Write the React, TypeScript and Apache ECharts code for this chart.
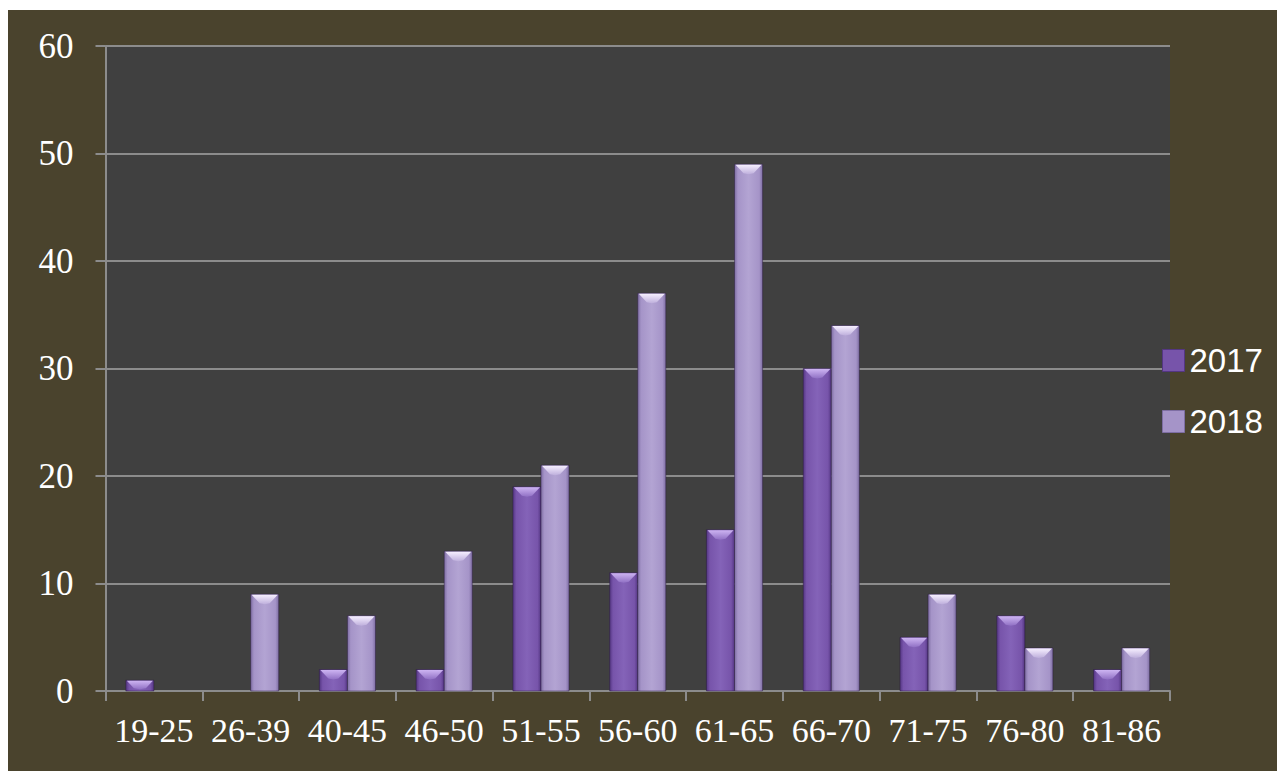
import React, { useEffect, useRef } from "react";
import * as echarts from "echarts";

const categories = ["19-25", "26-39", "40-45", "46-50", "51-55", "56-60", "61-65", "66-70", "71-75", "76-80", "81-86"];
const values2017 = [1, 0, 2, 2, 19, 11, 15, 30, 5, 7, 2];
const values2018 = [0, 9, 7, 13, 21, 37, 49, 34, 9, 4, 4];
const yTicks = { min: 0, max: 60, interval: 10 };

type Palette = { edge: string; mid: string; light: string; bevelTop: string; bevelBot: string };
const pal2017: Palette = { edge: "#543683", mid: "#7754aa", light: "#8463b8", bevelTop: "#cdb4f2", bevelBot: "#9070c4" };
const pal2018: Palette = { edge: "#7e6ea3", mid: "#a594c8", light: "#b3a4d3", bevelTop: "#f6efff", bevelBot: "#beafdc" };

function makeRender(side: number, p: Palette) {
  return (params: any, api: any) => {
    const idx = api.value(0);
    const val = api.value(1);
    if (!val) return null;
    const base = api.coord([idx, 0]);
    const top = api.coord([idx, val]);
    const band = api.size([1, 0])[0];
    const w = band * 0.29;
    const x = side < 0 ? base[0] - w : base[0];
    const y = top[1];
    const h = base[1] - top[1];
    const bev = Math.min(9, h * 0.75, w / 2);
    const bodyFill = new echarts.graphic.LinearGradient(0, 0, 1, 0, [
      { offset: 0, color: p.edge },
      { offset: 0.12, color: p.mid },
      { offset: 0.5, color: p.light },
      { offset: 0.88, color: p.mid },
      { offset: 1, color: p.edge },
    ]);
    const bevFill = new echarts.graphic.LinearGradient(0, 0, 0, 1, [
      { offset: 0, color: p.bevelTop },
      { offset: 1, color: p.bevelBot },
    ]);
    return {
      type: "group",
      children: [
        { type: "rect", shape: { x, y, width: w, height: h }, style: { fill: bodyFill, stroke: "rgba(40,25,60,0.45)", lineWidth: 1 } },
        {
          type: "polygon",
          shape: { points: [[x + 1, y + 0.5], [x + w - 1, y + 0.5], [x + w - bev, y + bev], [x + w / 2, y + bev + 1], [x + bev, y + bev]] },
          style: { fill: bevFill },
        },
      ],
    };
  };
}

export default function App() {
  const ref = useRef<HTMLDivElement>(null);
  useEffect(() => {
    if (!ref.current) return;
    const chart = echarts.init(ref.current, undefined, { renderer: "svg" });
    const axisColor = "#8c8c8c";
    chart.setOption({
      animation: false,
      backgroundColor: "#4a432d",
      grid: {
        show: true,
        backgroundColor: "#404040",
        borderWidth: 0,
        left: 97.5,
        top: 36,
        right: 107,
        bottom: 80,
        containLabel: false,
      },
      legend: {
        orient: "vertical",
        left: 1149,
        top: 329,
        itemWidth: 22,
        itemHeight: 22,
        itemGap: 28,
        icon: "rect",
        data: [
          { name: "2017", itemStyle: { color: pal2017.mid, borderColor: pal2017.edge, borderWidth: 1 } },
          { name: "2018", itemStyle: { color: pal2018.mid, borderColor: pal2018.edge, borderWidth: 1 } },
        ],
        textStyle: { color: "#ffffff", fontSize: 33, fontFamily: "Liberation Sans" },
      },
      xAxis: {
        type: "category",
        data: categories,
        axisLine: { show: true, lineStyle: { color: axisColor, width: 2 } },
        axisTick: { show: true, length: 10, lineStyle: { color: axisColor, width: 2 } },
        axisLabel: { color: "#ffffff", fontSize: 34, fontFamily: "Liberation Serif", margin: 22, interval: 0 },
        splitLine: { show: false },
      },
      yAxis: {
        type: "value",
        min: yTicks.min,
        max: yTicks.max,
        interval: yTicks.interval,
        axisLine: { show: true, lineStyle: { color: axisColor, width: 2 } },
        axisTick: { show: true, length: 10, lineStyle: { color: axisColor, width: 2 } },
        axisLabel: { color: "#ffffff", fontSize: 35, fontFamily: "Liberation Serif", margin: 32 },
        splitLine: { show: true, lineStyle: { color: axisColor, width: 2 } },
      },
      series: [
        {
          name: "2017",
          type: "custom",
          itemStyle: { color: pal2017.mid },
          encode: { x: 0, y: 1 },
          data: values2017.map((v, i) => [i, v]),
          renderItem: makeRender(-1, pal2017),
        },
        {
          name: "2018",
          type: "custom",
          itemStyle: { color: pal2018.mid },
          encode: { x: 0, y: 1 },
          data: values2018.map((v, i) => [i, v]),
          renderItem: makeRender(1, pal2018),
        },
      ],
    });
    return () => chart.dispose();
  }, []);
  return <div ref={ref} style={{ position: "fixed", left: 8, top: 10, width: 1269, height: 761 }} />;
}
